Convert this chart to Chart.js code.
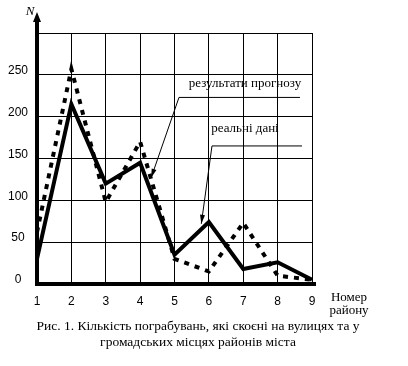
<!DOCTYPE html>
<html>
<head>
<meta charset="utf-8">
<script src="https://cdn.jsdelivr.net/npm/chart.js@4"></script>
<style>
  body { margin: 0; background: #fff; }
</style>
</head>
<body>
<canvas id="robberyChart" width="408" height="366"></canvas>
<script>
// district numbers along the x axis
const districts = [1, 2, 3, 4, 5, 6, 7, 8, 9];
// real data (solid) and forecast results (dashed), number of robberies N
const realValues = [30, 215, 120, 145, 35, 74, 18, 26, 5];
const forecastValues = [62, 257, 98, 170, 30, 15, 73, 10, 5];
const yTicks = [0, 50, 100, 150, 200, 250];

const serif = "'Liberation Serif', 'DejaVu Serif', serif";
const tickFont = { family: "'Liberation Sans Narrow', 'Liberation Sans', sans-serif", size: 12 };

const toPoints = (vals) => districts.map((d, i) => ({ x: d, y: vals[i] }));

// axis arrow, labels, leader lines and caption
const extras = {
  id: "extras",
  afterDraw(chart) {
    const ctx = chart.ctx;
    const xs = chart.scales.x;
    const ys = chart.scales.y;
    const area = chart.chartArea;
    const px = (v) => xs.getPixelForValue(v);
    const py = (v) => ys.getPixelForValue(v);

    ctx.save();
    ctx.strokeStyle = "#000";
    ctx.fillStyle = "#000";

    // y axis goes on above the plot and ends in an arrow
    ctx.lineWidth = 4;
    ctx.beginPath();
    ctx.moveTo(area.left, area.bottom);
    ctx.lineTo(area.left, 20);
    ctx.stroke();
    ctx.beginPath();
    ctx.moveTo(area.left, 12);
    ctx.lineTo(area.left - 4, 22);
    ctx.lineTo(area.left + 4, 22);
    ctx.closePath();
    ctx.fill();

    // x axis runs a little past 9
    ctx.beginPath();
    ctx.moveTo(area.left, area.bottom);
    ctx.lineTo(area.right + 4, area.bottom);
    ctx.stroke();

    ctx.font = "italic 13px " + serif;
    ctx.textAlign = "center";
    ctx.textBaseline = "middle";
    ctx.fillText("N", 30, 12);

    ctx.font = "13px " + serif;
    ctx.fillText("Номер", 349, 298);
    ctx.fillText("району", 349, 311);

    // callouts
    const callout = (text, tx, ty, x1, x2, yLine, tipX, tipY) => {
      ctx.font = "13px " + serif;
      ctx.fillText(text, px(tx), py(ty));
      ctx.lineWidth = 1;
      ctx.beginPath();
      ctx.moveTo(px(x2), py(yLine));
      ctx.lineTo(px(x1), py(yLine));
      ctx.lineTo(px(tipX), py(tipY));
      ctx.stroke();
      const ang = Math.atan2(py(tipY) - py(yLine), px(tipX) - px(x1));
      const len = 9, half = 2.5;
      const bx = px(tipX) - len * Math.cos(ang);
      const by = py(tipY) - len * Math.sin(ang);
      ctx.beginPath();
      ctx.moveTo(px(tipX), py(tipY));
      ctx.lineTo(bx + half * Math.sin(ang), by - half * Math.cos(ang));
      ctx.lineTo(bx - half * Math.sin(ang), by + half * Math.cos(ang));
      ctx.closePath();
      ctx.fill();
    };
    callout("результати прогнозу", 7.05, 240, 5.13, 8.65, 223, 4.32, 127);
    callout("реальні дані", 7.05, 186, 6.09, 8.71, 165, 5.78, 72);

    // figure caption
    ctx.font = "13.5px " + serif;
    ctx.fillText("Рис. 1. Кількість пограбувань, які скоєні на вулицях та у", 198, 326);
    ctx.fillText("громадських місцях районів міста", 198, 342);
    ctx.restore();
  },
};

new Chart("robberyChart", {
  type: "line",
  data: {
    datasets: [
      {
        label: "реальні дані",
        data: toPoints(realValues),
        borderColor: "#000",
        borderWidth: 4,
        pointRadius: 0,
        tension: 0,
      },
      {
        label: "результати прогнозу",
        data: toPoints(forecastValues),
        borderColor: "#000",
        borderWidth: 4,
        borderDash: [5, 6],
        pointRadius: 0,
        tension: 0,
      },
    ],
  },
  options: {
    responsive: false,
    animation: false,
    layout: { padding: { top: 33, right: 96, bottom: 0, left: 0 } },
    plugins: {
      legend: { display: false },
      tooltip: { enabled: false },
    },
    scales: {
      x: {
        type: "linear",
        min: 1,
        max: 9,
        afterFit: (s) => { s.height = 82; },
        grid: { color: "#000", lineWidth: 1, drawTicks: false },
        border: { color: "#000", width: 4 },
        ticks: { stepSize: 1, padding: 10, color: "#000", font: tickFont },
      },
      y: {
        min: 0,
        max: 300,
        afterFit: (s) => { s.width = 37; },
        afterBuildTicks: (s) => { s.ticks = [...yTicks, 300].map((v) => ({ value: v })); },
        grid: { color: "#000", lineWidth: 1, drawTicks: false },
        border: { color: "#000", width: 4 },
        ticks: {
          padding: 9,
          crossAlign: "center",
          labelOffset: -4,
          color: "#000",
          callback: (v) => (yTicks.includes(v) ? v : ""),
          font: tickFont,
        },
      },
    },
  },
  plugins: [extras],
});
</script>
</body>
</html>
